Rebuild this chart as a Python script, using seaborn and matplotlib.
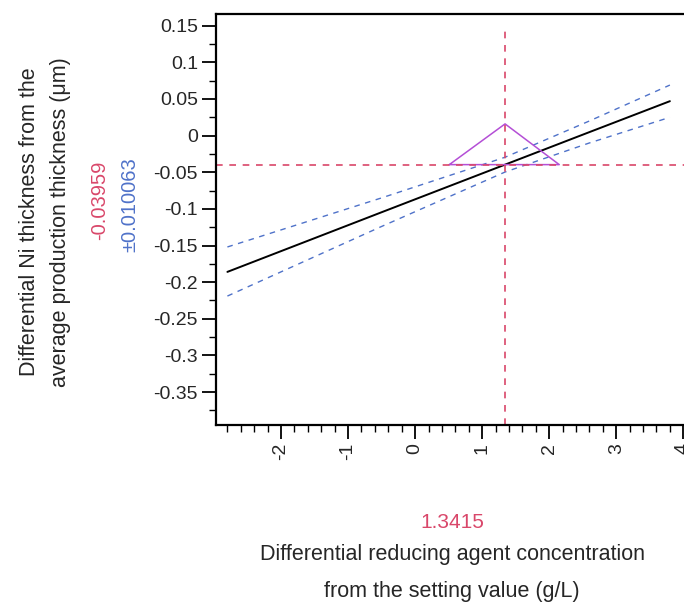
import matplotlib
matplotlib.use("Agg")
import matplotlib.pyplot as plt
import numpy as np
import pandas as pd
import seaborn as sns
from matplotlib.ticker import MultipleLocator

# prediction profile values
fit_x = [-2.8, -0.5, 1.3415, 2.6, 3.8]
fit_y = [-0.186, -0.1046, -0.0396, 0.0048, 0.047]
upper_y = [-0.152, -0.085, -0.0295, 0.020, 0.069]
lower_y = [-0.219, -0.124, -0.0497, -0.010, 0.025]

# desirability-style triangle marker
tri_x = [0.51, 1.3415, 2.15, 0.51]
tri_y = [-0.0396, 0.016, -0.0396, -0.0396]

x_current = 1.3415
y_current = -0.03959
y_ci = "\u00b10.010063"

x_ticks = [-2, -1, 0, 1, 2, 3, 4]
x_tick_labels = ["-2", "-1", "0", "1", "2", "3", "4"]
y_ticks = [0.15, 0.1, 0.05, 0, -0.05, -0.1, -0.15, -0.2, -0.25, -0.3, -0.35]
y_tick_labels = ["0.15", "0.1", "0.05", "0", "-0.05", "-0.1", "-0.15", "-0.2",
                 "-0.25", "-0.3", "-0.35"]

sns.set_style("ticks")
plt.rcParams["font.family"] = ["Liberation Sans", "DejaVu Sans"]

red = "#d9476a"
blue = "#4f72c9"
purple = "#b44fd6"
txt = "#262626"

fig = plt.figure(figsize=(6.84, 6.06), dpi=100)
ax = fig.add_axes([216 / 684, 1 - 425 / 606, 474 / 684, 411 / 606])

df = pd.DataFrame({"x": fit_x, "fit": fit_y, "upper": upper_y, "lower": lower_y})
sns.lineplot(data=df, x="x", y="fit", color="black", lw=1.4, ax=ax)
sns.lineplot(data=df, x="x", y="upper", color=blue, lw=1.0, ls=(0, (4, 4)), ax=ax)
sns.lineplot(data=df, x="x", y="lower", color=blue, lw=1.0, ls=(0, (4, 4)), ax=ax)

tri = pd.DataFrame({"x": tri_x, "y": tri_y})
ax.plot(tri["x"], tri["y"], color=purple, lw=1.1)

ax.axvline(x_current, color=red, lw=1.2, ls=(0, (4, 4)), ymin=0.0, ymax=0.97)
ax.axhline(y_current, color=red, lw=1.2, ls=(0, (4, 4)))

ax.set_xlim(-2.97, 4.1)
ax.set_ylim(-0.395, 0.166)
ax.set_xticks(x_ticks)
ax.set_xticklabels(x_tick_labels, rotation=90)
ax.set_yticks(y_ticks)
ax.set_yticklabels(y_tick_labels)
ax.xaxis.set_minor_locator(MultipleLocator(0.2))
ax.yaxis.set_minor_locator(MultipleLocator(0.025))
ax.tick_params(which="major", length=10, width=1.3, labelsize=14, color="black",
               labelcolor=txt, pad=3)
ax.tick_params(which="minor", length=5, width=1.0, color="black")
ax.set_xlabel("")
ax.set_ylabel("")
for s in ax.spines.values():
    s.set_linewidth(1.6)
    s.set_color("black")

fig.text(45 / 684, 1 - 222 / 606, "Differential Ni thickness from the\naverage production thickness (\u03bcm)",
         rotation=90, ha="center", va="center", fontsize=15.5, color=txt,
         linespacing=1.6)
fig.text(100 / 684, 1 - 200 / 606, "-0.03959", rotation=90, ha="center", va="center",
         fontsize=14.5, color=red)
fig.text(130 / 684, 1 - 205 / 606, y_ci, rotation=90, ha="center", va="center",
         fontsize=14.5, color=blue)

fig.text(452 / 684, 1 - 523 / 606, "1.3415", ha="center", va="center",
         fontsize=15, color=red)
fig.text(452 / 684, 1 - 573 / 606, "Differential reducing agent concentration\nfrom the setting value (g/L)",
         ha="center", va="center", fontsize=15.5, color=txt, linespacing=1.95)

fig.savefig("out.png", dpi=100)
